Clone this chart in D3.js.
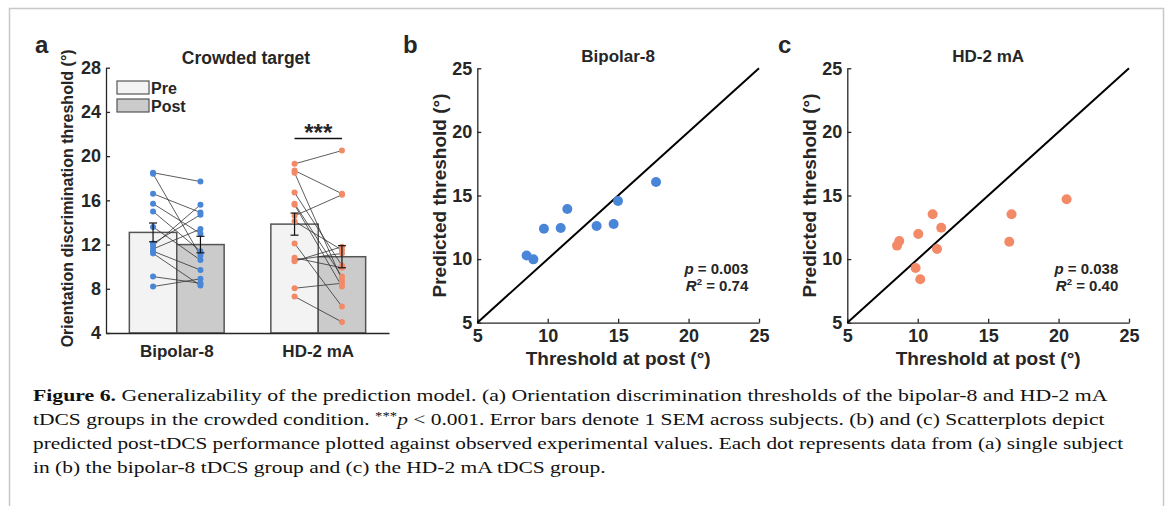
<!DOCTYPE html>
<html>
<head>
<meta charset="utf-8">
<script src="https://cdn.jsdelivr.net/npm/d3@7"></script>
<style>
  html, body { margin: 0; padding: 0; background: #fff; }
  svg { display: block; }
  .chart text { font-family: "Liberation Sans", Arial, sans-serif; font-weight: bold; fill: #262626; }
  .chart .axis path, .chart .axis line { stroke: #262626; stroke-width: 1.3; }
  .caption text { font-family: "Liberation Serif", "Times New Roman", serif; fill: #111; }
</style>
</head>
<body>
<div id="figure"></div>
<script>
(function () {
  const width = 1168;
  const height = 506;

  // panel a
  const groups = ["Bipolar-8", "HD-2 mA"];
  const sessions = ["Pre", "Post"];
  const meanPre = [13.1, 13.85];
  const meanPost = [12.0, 10.9];
  const semPre = [0.85, 1.0];
  const semPost = [0.75, 1.0];
  const bipolarPre = [18.5, 18.4, 16.6, 15.7, 15.0, 13.6, 12.1, 11.9, 11.6, 11.4, 11.2, 9.1, 8.2];
  const bipolarPost = [17.7, 11.0, 14.9, 13.0, 11.4, 10.6, 14.7, 15.6, 13.4, 9.7, 8.3, 8.5, 8.9];
  const hdPre = [19.3, 18.7, 18.5, 16.7, 15.7, 15.6, 14.6, 14.1, 12.1, 10.8, 10.6, 10.5, 8.05, 7.3];
  const hdPost = [20.5, 16.6, 8.8, 10.1, 9.1, 8.2, 16.5, 11.5, 6.4, 9.9, 11.2, 11.8, 8.5, 5.0];
  const yTicksA = [4, 8, 12, 16, 20, 24, 28];

  // panels b and c
  const bipolarObserved = [8.5, 8.98, 9.73, 10.92, 11.39, 13.47, 14.68, 14.99, 17.69];
  const bipolarPredicted = [10.29, 9.98, 12.39, 12.44, 13.94, 12.6, 12.76, 14.57, 16.06];
  const hdObserved = [8.53, 8.69, 10.04, 11.06, 11.67, 11.37, 9.85, 10.18, 16.5, 16.66, 20.57];
  const hdPredicted = [11.06, 11.42, 11.97, 13.52, 12.47, 10.79, 9.3, 8.41, 11.37, 13.52, 14.7];
  const scatterTicks = [5, 10, 15, 20, 25];

  const captionLines = [
    [["Figure 6.", "bold"], [" Generalizability of the prediction model. (a) Orientation discrimination thresholds of the bipolar-8 and HD-2 mA", ""]],
    [["tDCS groups in the crowded condition. ", ""], ["***", "sup"], ["p", "italic"], [" < 0.001. Error bars denote 1 SEM across subjects. (b) and (c) Scatterplots depict", ""]],
    [["predicted post-tDCS performance plotted against observed experimental values. Each dot represents data from (a) single subject", ""]],
    [["in (b) the bipolar-8 tDCS group and (c) the HD-2 mA tDCS group.", ""]]
  ];
  const captionEnds = [1108, 1105, 1124, 606];

  const blue = "#4a86d8";
  const orange = "#f28a68";

  const svg = d3.select("#figure")
    .append("svg")
    .attr("width", width)
    .attr("height", height);

  svg.append("rect").attr("width", width).attr("height", height).attr("fill", "#fff");

  // page frame, open at the bottom
  svg.append("path")
    .attr("d", "M9.5,506 V8.5 H1163.5 V506")
    .attr("fill", "none")
    .attr("stroke", "#c8c8c8")
    .attr("stroke-width", 1.5);

  const chart = svg.append("g").attr("class", "chart");

  // ---------- panel a ----------
  const aLeft = 106, aRight = 389, aTop = 67.7, aBottom = 333;
  const yA = d3.scaleLinear().domain([4, 28]).range([aBottom, aTop]);
  const xGroup = d3.scaleBand().domain(groups).range([aLeft, aRight]).paddingInner(0.33).paddingOuter(0.165);
  const xSession = d3.scaleBand().domain(sessions).range([0, xGroup.bandwidth()]);

  const barData = [];
  groups.forEach((g, i) => {
    barData.push({ group: g, session: "Pre", mean: meanPre[i], sem: semPre[i] });
    barData.push({ group: g, session: "Post", mean: meanPost[i], sem: semPost[i] });
  });
  const barX = (d) => xGroup(d.group) + xSession(d.session);
  const dotX = (group, session) => xGroup(group) + xSession(session) + xSession.bandwidth() / 2;

  const panelA = chart.append("g");

  panelA.selectAll("rect.bar")
    .data(barData)
    .join("rect")
    .attr("class", "bar")
    .attr("x", barX)
    .attr("width", xSession.bandwidth())
    .attr("y", (d) => yA(d.mean))
    .attr("height", (d) => yA(4) - yA(d.mean))
    .attr("fill", (d) => d.session === "Pre" ? "#f3f3f3" : "#cbcbcb")
    .attr("stroke", "#555")
    .attr("stroke-width", 1.5);

  const subjects = [
    { group: "Bipolar-8", pre: bipolarPre, post: bipolarPost, color: blue },
    { group: "HD-2 mA", pre: hdPre, post: hdPost, color: orange }
  ];

  subjects.forEach((s) => {
    const pairs = s.pre.map((v, i) => ({ pre: v, post: s.post[i] }));
    const x0 = dotX(s.group, "Pre");
    const x1 = dotX(s.group, "Post");
    panelA.append("g").selectAll("line")
      .data(pairs)
      .join("line")
      .attr("x1", x0).attr("x2", x1)
      .attr("y1", (d) => yA(d.pre)).attr("y2", (d) => yA(d.post))
      .attr("stroke", "#333")
      .attr("stroke-width", 0.8);
    panelA.append("g").selectAll("circle")
      .data(s.pre.map((v) => [x0, v]).concat(s.post.map((v) => [x1, v])))
      .join("circle")
      .attr("cx", (d) => d[0])
      .attr("cy", (d) => yA(d[1]))
      .attr("r", 3)
      .attr("fill", s.color);
  });

  // error bars
  const errG = panelA.append("g").attr("stroke", "#111").attr("stroke-width", 1.2);
  barData.forEach((d) => {
    const cx = dotX(d.group, d.session);
    const yHi = yA(d.mean + d.sem), yLo = yA(d.mean - d.sem);
    errG.append("line").attr("x1", cx).attr("x2", cx).attr("y1", yHi).attr("y2", yLo);
    errG.append("line").attr("x1", cx - 4).attr("x2", cx + 4).attr("y1", yHi).attr("y2", yHi);
    errG.append("line").attr("x1", cx - 4).attr("x2", cx + 4).attr("y1", yLo).attr("y2", yLo);
  });

  panelA.append("g")
    .attr("class", "axis")
    .attr("transform", `translate(${aLeft},0)`)
    .call(d3.axisLeft(yA).tickValues(yTicksA).tickSizeInner(-4).tickSizeOuter(0).tickPadding(5))
    .call((g) => g.selectAll("text").style("font-size", "18px"));

  panelA.append("g")
    .attr("class", "axis")
    .attr("transform", `translate(0,${aBottom})`)
    .call(d3.axisBottom(xGroup).tickSize(0).tickPadding(12))
    .call((g) => g.selectAll("text").style("font-size", "17px"));

  panelA.append("text")
    .attr("transform", `translate(73,${(aTop + aBottom) / 2 - 2}) rotate(-90)`)
    .attr("text-anchor", "middle")
    .style("font-size", "16px")
    .text("Orientation discrimination threshold (°)");

  panelA.append("text")
    .attr("x", 246).attr("y", 64)
    .attr("text-anchor", "middle")
    .style("font-size", "17.5px")
    .text("Crowded target");

  // legend
  const legend = panelA.append("g");
  sessions.forEach((s, i) => {
    legend.append("rect")
      .attr("x", 117).attr("y", 81 + i * 18)
      .attr("width", 32).attr("height", 13)
      .attr("fill", s === "Pre" ? "#f3f3f3" : "#cbcbcb")
      .attr("stroke", "#555").attr("stroke-width", 1.2);
    legend.append("text")
      .attr("x", 151).attr("y", 94 + i * 18)
      .style("font-size", "16px")
      .text(s);
  });

  // significance
  const hdPreX = dotX("HD-2 mA", "Pre"), hdPostX = dotX("HD-2 mA", "Post");
  panelA.append("line")
    .attr("x1", hdPreX).attr("x2", hdPostX)
    .attr("y1", 138.5).attr("y2", 138.5)
    .attr("stroke", "#111").attr("stroke-width", 1.5);
  panelA.append("text")
    .attr("x", (hdPreX + hdPostX) / 2).attr("y", 141)
    .attr("text-anchor", "middle")
    .style("font-size", "24px")
    .text("***");

  chart.append("text").attr("x", 35).attr("y", 53).style("font-size", "24px").text("a");

  // ---------- panels b and c ----------
  function scatterPanel(left, letterX, letter, title, observed, predicted, color, pText, rText) {
    const right = left + 281.7;
    const top = 68.3, bottom = 322.7;
    const x = d3.scaleLinear().domain([5, 25]).range([left, right]);
    const y = d3.scaleLinear().domain([5, 25]).range([bottom, top]);
    const g = chart.append("g");

    g.append("g")
      .attr("class", "axis")
      .attr("transform", `translate(${left},0)`)
      .call(d3.axisLeft(y).tickValues(scatterTicks).tickSizeInner(-4).tickSizeOuter(0).tickPadding(5))
      .call((a) => a.selectAll("text").style("font-size", "18px"));

    g.append("g")
      .attr("class", "axis")
      .attr("transform", `translate(0,${bottom})`)
      .call(d3.axisBottom(x).tickValues(scatterTicks).tickSizeInner(-4).tickSizeOuter(0).tickPadding(7))
      .call((a) => a.selectAll("text").style("font-size", "18px"));

    g.append("line")
      .attr("x1", x(5)).attr("y1", y(5))
      .attr("x2", x(25)).attr("y2", y(25))
      .attr("stroke", "#000").attr("stroke-width", 2);

    g.append("g").selectAll("circle")
      .data(observed.map((v, i) => [v, predicted[i]]))
      .join("circle")
      .attr("cx", (d) => x(d[0]))
      .attr("cy", (d) => y(d[1]))
      .attr("r", 5)
      .attr("fill", color);

    g.append("text")
      .attr("x", (left + right) / 2).attr("y", 365)
      .attr("text-anchor", "middle")
      .style("font-size", "19px")
      .text("Threshold at post (°)");

    g.append("text")
      .attr("transform", `translate(${left - 31},${(top + bottom) / 2}) rotate(-90)`)
      .attr("text-anchor", "middle")
      .style("font-size", "19px")
      .text("Predicted threshold (°)");

    g.append("text")
      .attr("x", (left + right) / 2).attr("y", 62)
      .attr("text-anchor", "middle")
      .style("font-size", "17px")
      .text(title);

    const pLine = g.append("text")
      .attr("x", left + 271).attr("y", 274)
      .attr("text-anchor", "end")
      .style("font-size", "15px");
    pLine.append("tspan").style("font-style", "italic").text("p");
    pLine.append("tspan").text(" = " + pText);

    const rLine = g.append("text")
      .attr("x", left + 271).attr("y", 291)
      .attr("text-anchor", "end")
      .style("font-size", "15px");
    rLine.append("tspan").style("font-style", "italic").text("R");
    rLine.append("tspan").attr("dy", -6).style("font-size", "9.5px").text("2");
    rLine.append("tspan").attr("dy", 6).text(" = " + rText);

    chart.append("text").attr("x", letterX).attr("y", 53).style("font-size", "24px").text(letter);
  }

  scatterPanel(477.3, 403, "b", "Bipolar-8", bipolarObserved, bipolarPredicted, blue, "0.003", "0.74");
  scatterPanel(847.3, 778, "c", "HD-2 mA", hdObserved, hdPredicted, orange, "0.038", "0.40");

  // ---------- caption ----------
  const caption = svg.append("g").attr("class", "caption");
  captionLines.forEach((parts, i) => {
    const t = caption.append("text")
      .attr("x", 0).attr("y", 0)
      .style("font-size", "17.5px");
    parts.forEach(([str, style]) => {
      const ts = t.append("tspan").text(str);
      if (style === "bold") ts.style("font-weight", "bold");
      if (style === "italic") ts.style("font-style", "italic");
      if (style === "sup") ts.style("font-size", "12px").attr("dy", -5);
      if (style === "italic" && parts.some((p) => p[1] === "sup")) ts.attr("dy", 5);
    });
    const natural = t.node().getComputedTextLength();
    const sx = (captionEnds[i] - 33) / natural;
    t.attr("transform", `translate(33,${401 + i * 24}) scale(${sx},1)`);
  });
}());
</script>
</body>
</html>
